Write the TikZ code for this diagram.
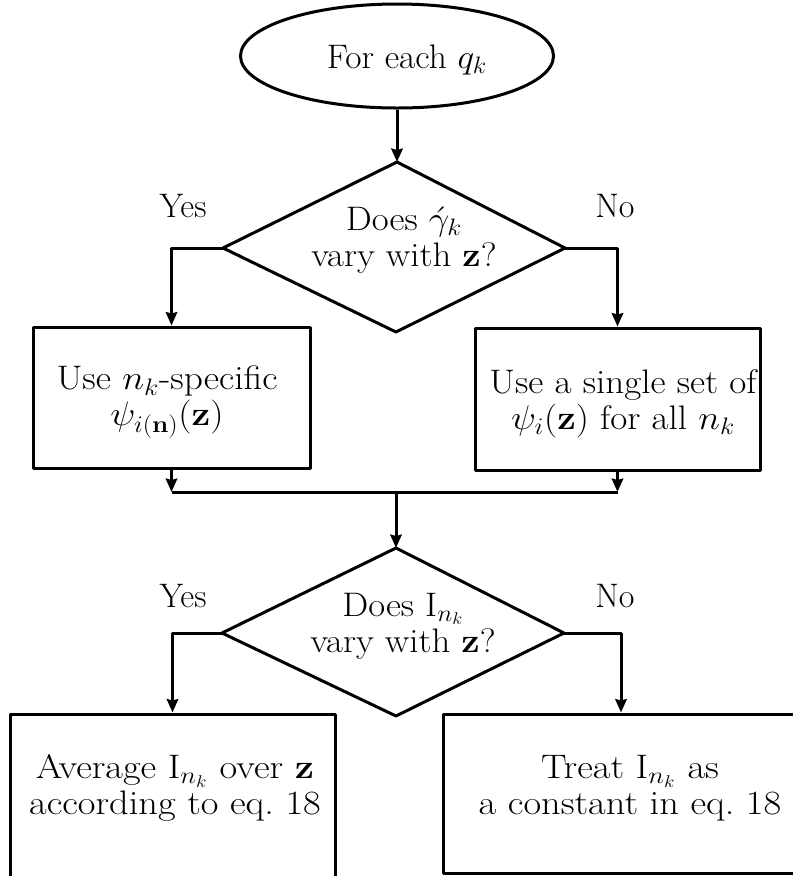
\documentclass[tikz,border=0pt]{standalone}
\usepackage{fix-cm}
\usetikzlibrary{arrows.meta,shapes.geometric}
\begin{document}
\begin{tikzpicture}[x=0.75pt,y=-0.75pt,line width=2.25pt,
  every node/.style={font=\fontsize{25.5}{27}\selectfont},
  box/.style={draw, rectangle, inner sep=0pt},
  txt/.style={align=center, inner sep=0pt, transform shape},
  lbl/.style={inner sep=0pt, anchor=base},
  arr/.style={-{Stealth[length=10pt,width=8.5pt,inset=1pt]}},
  line join=round]
\useasboundingbox (0,0) rectangle (793,876);
\clip (0,0) rectangle (793,876);

% start
\node[draw, ellipse, minimum width=313*0.75pt, minimum height=104*0.75pt, inner sep=0pt] (start) at (397,56) {};
\node[lbl, transform shape, xscale=1.04] (starttxt) at (407,68) {For each $q_k$};

% decision 1
\coordinate (d1t) at (397,162);
\coordinate (d1r) at (565,248);
\coordinate (d1b) at (396,332);
\coordinate (d1l) at (223,248);
\draw (d1t) -- (d1r) -- (d1b) -- (d1l) -- cycle;
\node[txt, xscale=1.08] (d1txt) at (404,240) {Does $\acute{\gamma}_k$\\ vary with $\mathbf{z}$?};
\node[lbl] (yes1) at (183,217) {Yes};
\node[lbl] (no1) at (615,217) {No};

% boxes 1 and 2
\node[box, minimum width=277*0.75pt, minimum height=141*0.75pt] (b1) at (171.5,397.5) {};
\node[txt, xscale=1.1] (b1txt) at (167,402) {Use $n_k$-specific\\ $\psi_{i(\mathbf{n})}(\mathbf{z})$};
\node[box, minimum width=285*0.75pt, minimum height=142*0.75pt] (b2) at (617.5,399) {};
\node[txt, xscale=1.09] (b2txt) at (623,404) {Use a single set of\\ $\psi_i(\mathbf{z})$ for all $n_k$};

% decision 2
\coordinate (d2t) at (396,548);
\coordinate (d2r) at (564,633);
\coordinate (d2b) at (396,716);
\coordinate (d2l) at (222,633);
\draw (d2t) -- (d2r) -- (d2b) -- (d2l) -- cycle;
\node[txt, xscale=1.08] (d2txt) at (403,626) {Does $\mathrm{I}_{n_k}$\\ vary with $\mathbf{z}$?};
\node[lbl] (yes2) at (183,607) {Yes};
\node[lbl] (no2) at (615,607) {No};

% boxes 3 and 4
\node[box, minimum width=325*0.75pt, minimum height=200*0.75pt] (b3) at (172.5,814) {};
\node[txt, xscale=1.13] (b3txt) at (175,788) {Average $\mathrm{I}_{n_k}$ over $\mathbf{z}$\\ according to eq.~18};
\node[box, minimum width=356*0.75pt, minimum height=159*0.75pt] (b4) at (621,793.5) {};
\node[txt, xscale=1.13] (b4txt) at (630,788) {Treat $\mathrm{I}_{n_k}$ as\\ a constant in eq.~18};

% connectors
\draw[arr] (start.south) -- (d1t);
\draw[arr] (d1l) -| (b1.north);
\draw[arr] (d1r) -| (b2.north);
\coordinate (m) at (396,492);
\draw[arr] (b1.south) -- (b1.south |- m);
\draw[arr] (b2.south) -- (b2.south |- m);
\draw (b1.south |- m) -- (b2.south |- m);
\draw[arr] (m) -- (d2t);
\draw[arr] (d2l) -| (b3.north);
\draw[arr] (d2r) -| (b4.north);
\end{tikzpicture}
\end{document}
